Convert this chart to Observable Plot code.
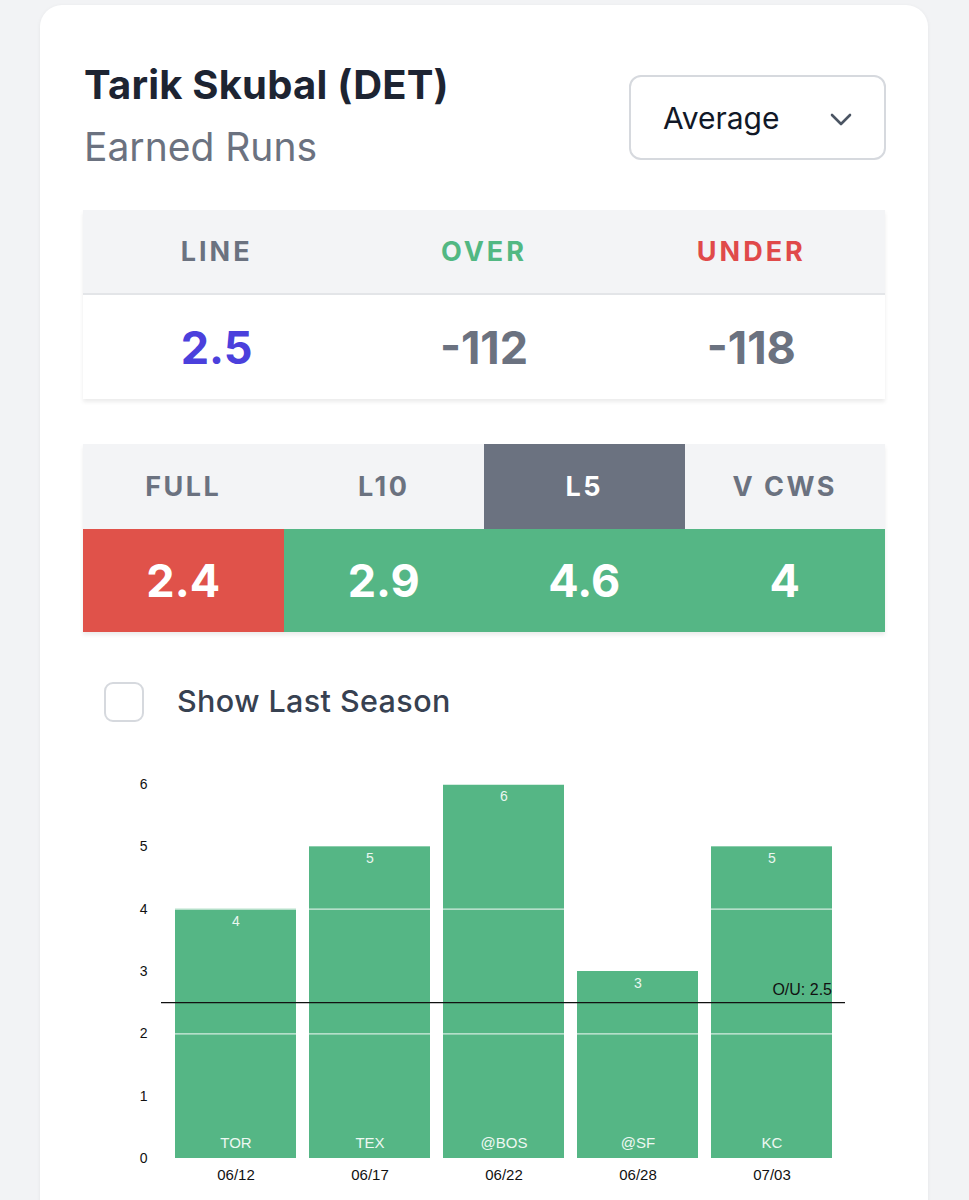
<!DOCTYPE html>
<html>
<head>
<meta charset="utf-8">
<script src="https://cdn.jsdelivr.net/npm/d3@7"></script>
<script src="https://cdn.jsdelivr.net/npm/@observablehq/plot@0.6"></script>
<style>
  html, body { margin: 0; padding: 0; }
  body { width: 969px; height: 1200px; background: #f2f3f5; position: relative; overflow: hidden; font-family: Inter, "Noto Sans", sans-serif; }
  .card { position: absolute; left: 40px; top: 5px; width: 888px; height: 1300px; background: #fff; border-radius: 22px; box-shadow: 0 1px 4px rgba(0,0,0,0.06); }
  .abs { position: absolute; }
  #title { left: 84px; top: 60px; font-size: 40px; font-weight: 700; color: #1d2432; white-space: nowrap; letter-spacing: 0.2px; }
  #subtitle { left: 84px; top: 123px; font-size: 39px; font-weight: 400; color: #6b7280; white-space: nowrap; }
  #dropdown { left: 629px; top: 75px; width: 257px; height: 85px; border: 2px solid #d6d9de; border-radius: 12px; box-sizing: border-box; }
  #dropdown .lbl { position: absolute; left: 32px; top: 23px; font-size: 30px; color: #111827; }
  #dropdown svg { position: absolute; left: 198px; top: 35px; }
  .tbl { position: absolute; left: 83px; width: 802px; display: grid; }
  .tbl .cell { display: flex; align-items: center; justify-content: center; font-weight: 700; }
  #odds { top: 210px; grid-template-columns: repeat(3, 1fr); grid-template-rows: 85px 104px; box-shadow: 0 3px 4px rgba(0,0,0,0.08); }
  #odds .hd { background: #f3f4f6; font-size: 27px; letter-spacing: 3px; border-bottom: 2px solid #e3e5e8; }
  #odds .val { background: #fff; font-size: 45px; color: #6b7280; }
  #splits { top: 444px; grid-template-columns: repeat(4, 1fr); grid-template-rows: 85px 103px; box-shadow: 0 3px 4px rgba(0,0,0,0.08); }
  #splits .hd { background: #f3f4f6; font-size: 27px; letter-spacing: 2.5px; color: #6b7280; }
  #splits .hd.active { background: #6b7280; color: #fff; }
  #splits .val { font-size: 45px; color: #fff; }
  #chk { left: 104px; top: 682px; width: 40px; height: 40px; border: 2px solid #d6d9de; border-radius: 9px; box-sizing: border-box; }
  #chkLabel { left: 177px; top: 682px; font-size: 30.5px; font-weight: 500; color: #374151; white-space: nowrap; letter-spacing: 0.4px; }
  #chart { left: 0px; top: 764px; }
</style>
</head>
<body>
<div class="card"></div>
<div id="title" class="abs"></div>
<div id="subtitle" class="abs"></div>
<div id="dropdown" class="abs"><span class="lbl">Average</span>
  <svg width="24" height="16" viewBox="0 0 24 16"><path d="M3 3 L12 12 L21 3" fill="none" stroke="#4b5563" stroke-width="2.6" stroke-linecap="round" stroke-linejoin="round"/></svg>
</div>
<div id="odds" class="tbl"></div>
<div id="splits" class="tbl"></div>
<div id="chk" class="abs"></div>
<div id="chkLabel" class="abs">Show Last Season</div>
<div id="chart" class="abs"></div>
<script>
// ---- data ----
const playerName = "Tarik Skubal (DET)";
const statName = "Earned Runs";
const oddsHeaders = ["LINE", "OVER", "UNDER"];
const oddsValues = ["2.5", "-112", "-118"];
const splitLabels = ["FULL", "L10", "L5", "V CWS"];
const splitValues = [2.4, 2.9, 4.6, 4];
const activeSplit = "L5";
const propLine = 2.5;
const gameDates = ["06/12", "06/17", "06/22", "06/28", "07/03"];
const opponents = ["TOR", "TEX", "@BOS", "@SF", "KC"];
const earnedRuns = [4, 5, 6, 3, 5];
const yTicks = [0, 1, 2, 3, 4, 5, 6];
const gridValues = [2, 4, 6];

// ---- header ----
document.getElementById("title").textContent = playerName;
document.getElementById("subtitle").textContent = statName;

const GREEN = "#55b685", RED = "#e0524a";
const oddsColors = ["#6b7280", "#52b883", "#e04a4a"];
const odds = document.getElementById("odds");
oddsHeaders.forEach((h, i) => {
  const d = document.createElement("div");
  d.className = "cell hd"; d.textContent = h; d.style.color = oddsColors[i];
  odds.appendChild(d);
});
oddsValues.forEach((v, i) => {
  const d = document.createElement("div");
  d.className = "cell val"; d.textContent = v;
  if (i === 0) d.style.color = "#4b40dc";
  odds.appendChild(d);
});

const splits = document.getElementById("splits");
splitLabels.forEach(h => {
  const d = document.createElement("div");
  d.className = "cell hd" + (h === activeSplit ? " active" : ""); d.textContent = h;
  splits.appendChild(d);
});
splitValues.forEach(v => {
  const d = document.createElement("div");
  d.className = "cell val"; d.textContent = String(v);
  d.style.background = v > propLine ? GREEN : RED;
  splits.appendChild(d);
});

// ---- chart ----
const games = gameDates.map((date, i) => ({date, opp: opponents[i], er: earnedRuns[i]}));
const font = "'Liberation Sans', Arial, Helvetica, sans-serif";
const chart = Plot.plot({
  width: 969,
  height: 430,
  marginLeft: 161,
  marginRight: 124,
  marginTop: 20,
  marginBottom: 36,
  style: {fontFamily: font, fontSize: "14px", background: "transparent", color: "#111"},
  x: {domain: gameDates, padding: 0.1, label: null},
  y: {domain: [0, 6], label: null},
  marks: [
    Plot.barY(games, {x: "date", y: "er", fill: GREEN}),
    Plot.ruleY(gridValues, {stroke: "#ffffff", strokeOpacity: 0.75, strokeWidth: 1.2}),
    Plot.text(games, {x: "date", y: "er", text: d => String(d.er), dy: 12, fill: "#eaf7f0", fontSize: 14}),
    Plot.text(games, {x: "date", y: 0, text: "opp", dy: -15, fill: "#eef8f2", fontSize: 15}),
    Plot.ruleY([propLine], {stroke: "#111", strokeWidth: 1.3}),
    Plot.text([propLine], {x: () => gameDates[gameDates.length - 1], y: d => d, text: d => `O/U: ${d}`, dx: 60, dy: -13, textAnchor: "end", fill: "#111", fontSize: 16}),
    Plot.axisX({tickSize: 0, tickPadding: 11, fontSize: 15, fill: "#111"}),
    Plot.axisY({ticks: yTicks, tickSize: 0, tickPadding: 14, fontSize: 14, fill: "#111", tickFormat: d => String(d)})
  ]
});
document.getElementById("chart").appendChild(chart);
</script>
</body>
</html>
